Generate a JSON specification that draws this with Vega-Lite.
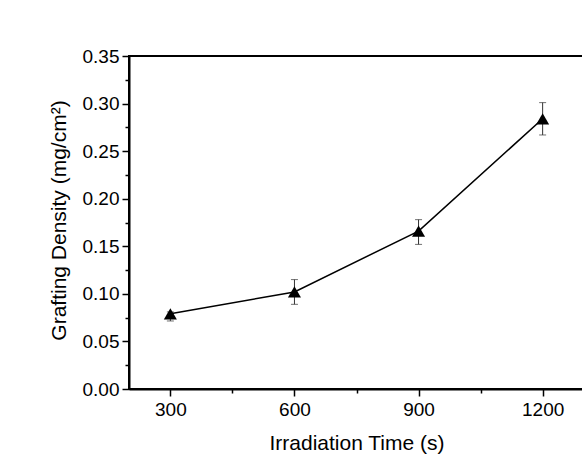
{
  "$schema": "https://vega.github.io/schema/vega-lite/v6.json",
  "width": 455,
  "height": 333,
  "autosize": {"type": "none"},
  "padding": {"left": 129, "top": 56, "right": 0, "bottom": 70},
  "background": "white",
  "view": {"stroke": "black", "strokeWidth": 2},
  "config": {
    "font": "Liberation Sans",
    "axis": {"grid": false, "domainColor": "black", "domainWidth": 2, "tickColor": "black", "tickWidth": 1.5, "labelColor": "black", "titleColor": "black", "labelFont": "Liberation Sans", "titleFont": "Liberation Sans", "labelFontSize": 19, "titleFontSize": 21, "titleFontWeight": "normal"}
  },
  "data": {
    "values": [
      {"time": 300, "density": 0.079, "lo": 0.0715, "hi": 0.081},
      {"time": 600, "density": 0.102, "lo": 0.089, "hi": 0.115},
      {"time": 900, "density": 0.166, "lo": 0.152, "hi": 0.178},
      {"time": 1200, "density": 0.284, "lo": 0.267, "hi": 0.301}
    ]
  },
  "resolve": {"axis": {"x": "independent", "y": "independent"}},
  "layer": [
    {
      "mark": {"type": "rule", "color": "#333", "strokeWidth": 1},
      "encoding": {
        "x": {"field": "time", "type": "quantitative", "scale": {"domain": [200, 1300], "nice": false, "zero": false},
          "axis": {"orient": "bottom", "values": [300, 600, 900, 1200], "format": "d", "tickSize": 7, "labelPadding": 4, "title": "Irradiation Time (s)", "titleY": 60, "titleBaseline": "alphabetic"}},
        "y": {"field": "lo", "type": "quantitative", "scale": {"domain": [0, 0.35], "nice": false, "zero": true},
          "axis": {"orient": "left", "values": [0, 0.05, 0.1, 0.15, 0.2, 0.25, 0.3, 0.35], "format": ".2f", "tickSize": 7, "labelPadding": 3, "title": "Grafting Density (mg/cm²)", "titleX": -64, "titleY": 164, "titleBaseline": "alphabetic"}},
        "y2": {"field": "hi"}
      }
    },
    {
      "mark": {"type": "tick", "orient": "horizontal", "color": "#333", "size": 7, "thickness": 1},
      "encoding": {
        "x": {"field": "time", "type": "quantitative",
          "axis": {"orient": "bottom", "values": [450, 750, 1050], "tickSize": 4, "labels": false, "domain": false, "title": null}},
        "y": {"field": "lo", "type": "quantitative",
          "axis": {"orient": "left", "values": [0.025, 0.075, 0.125, 0.175, 0.225, 0.275, 0.325], "tickSize": 4, "labels": false, "domain": false, "title": null}}
      }
    },
    {
      "mark": {"type": "tick", "orient": "horizontal", "color": "#333", "size": 7, "thickness": 1},
      "encoding": {
        "x": {"field": "time", "type": "quantitative", "axis": null},
        "y": {"field": "hi", "type": "quantitative", "axis": null}
      }
    },
    {
      "mark": {"type": "line", "color": "black", "strokeWidth": 1.5},
      "encoding": {
        "x": {"field": "time", "type": "quantitative", "axis": null},
        "y": {"field": "density", "type": "quantitative", "axis": null}
      }
    },
    {
      "mark": {"type": "point", "shape": "triangle-up", "filled": true, "color": "black", "size": 170, "opacity": 1},
      "encoding": {
        "x": {"field": "time", "type": "quantitative", "axis": null},
        "y": {"field": "density", "type": "quantitative", "axis": null}
      }
    }
  ]
}
